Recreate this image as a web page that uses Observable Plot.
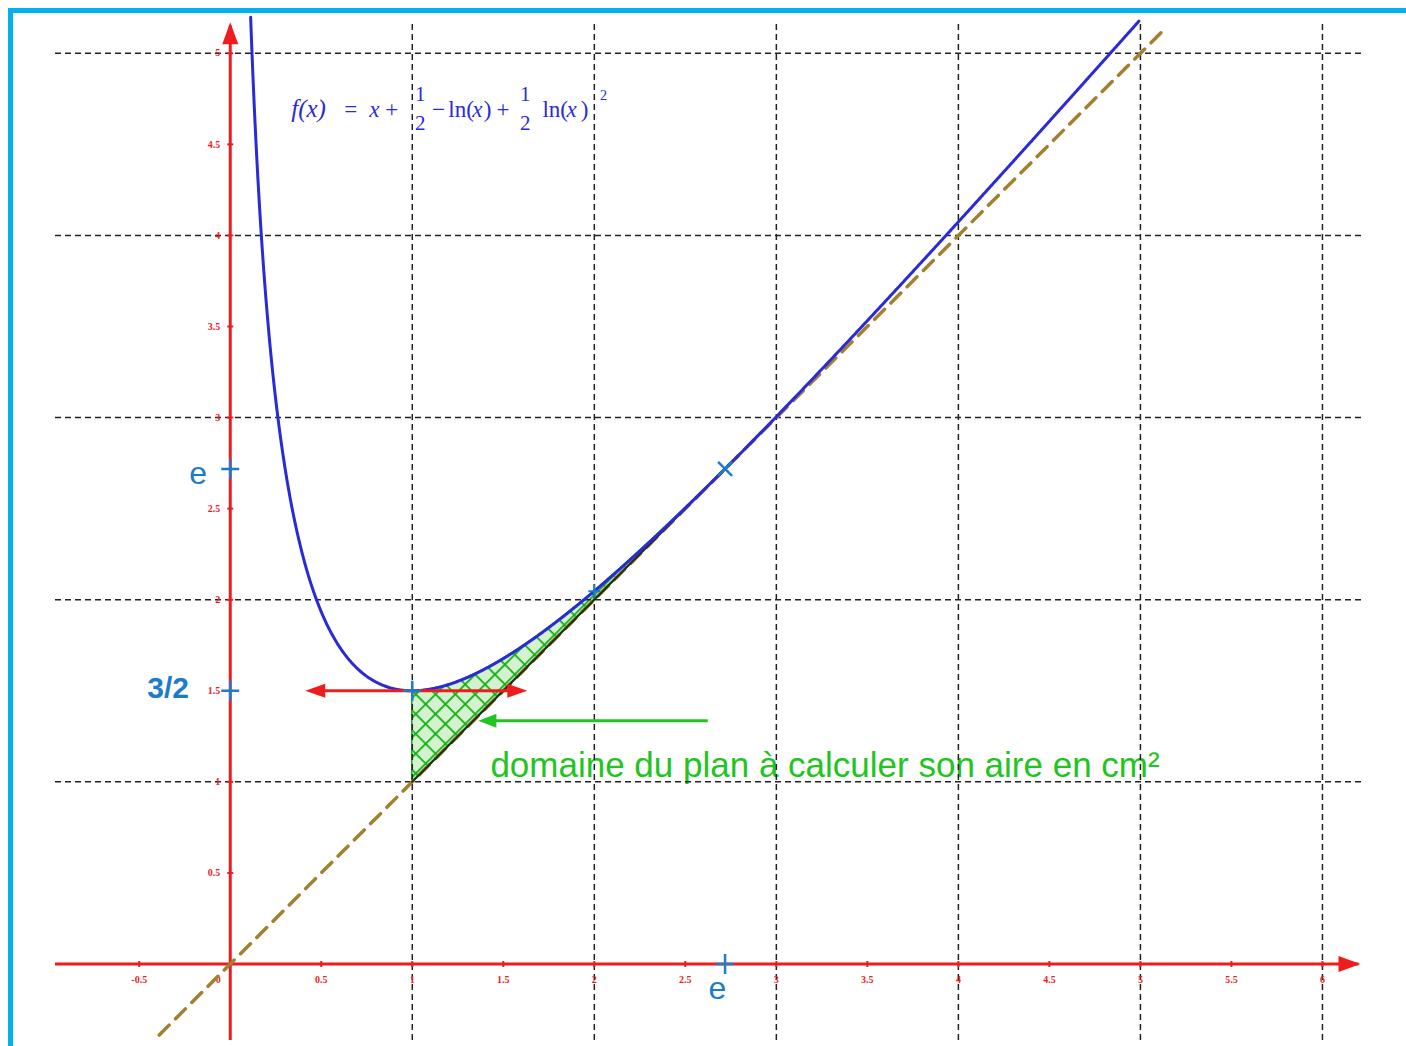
<!DOCTYPE html>
<html>
<head>
<meta charset="utf-8">
<script src="https://cdn.jsdelivr.net/npm/d3@7"></script>
<script src="https://cdn.jsdelivr.net/npm/@observablehq/plot@0.6"></script>
<style>
  html, body { margin: 0; padding: 0; background: #ffffff; }
  #wrap { position: relative; width: 1406px; height: 1046px; overflow: hidden; }
  #wrap svg { position: absolute; left: 0; top: 0; }
  #border { position: absolute; left: 8px; top: 8px; width: 1500px; height: 1100px;
            border-left: 5px solid #00b0f0; border-top: 5px solid #00b0f0; pointer-events: none; }
</style>
</head>
<body>
<div id="wrap"><div id="border"></div></div>
<script>
// ---------- data ----------
const E = Math.E;
const gridX = [1, 2, 3, 4, 5, 6];
const gridY = [1, 2, 3, 4, 5];
const xTickValues = [-0.5, 0, 0.5, 1, 1.5, 2, 2.5, 3, 3.5, 4, 4.5, 5, 5.5, 6];
const xTickLabels = ["-0.5", "0", "0.5", "1", "1.5", "2", "2.5", "3", "3.5", "4", "4.5", "5", "5.5", "6"];
const yTickValues = [0.5, 1, 1.5, 2, 2.5, 3, 3.5, 4, 4.5, 5];
const yTickLabels = ["0.5", "1", "1.5", "2", "2.5", "3", "3.5", "4", "4.5", "5"];
// the function displayed on the chart: f(x) = x + 1/2 - ln(x) + 1/2 ln(x)^2
const f = x => x + 0.5 - Math.log(x) + 0.5 * Math.log(x) ** 2;
const curveXs = d3.range(0.112, 4.996, 0.004);
const regionXs = d3.range(1, E, 0.005).concat([E]);
const diagonalEnds = [-0.39, 5.14];          // y = x dashed line
const tangentEnds = [0.412, 1.632];          // horizontal tangent at y = 3/2
const tangentY = 1.5;
const pointerEnds = [2.626, 1.363];          // green pointer arrow
const pointerY = 1.335;
const markedPoints = [[0, E], [0, 1.5], [1, 1.5], [E, 0]];
const smallMarked = [[2, f(2)]];
const tangencyPoint = [[E, E]];
const regionLabel = "domaine du plan à calculer son aire en cm²";

// ---------- styling ----------
const RED = "#ee1c1c", BLUE = "#2a2ad8", MARK = "#1c7cc9", GREEN = "#22c422", BROWN = "#a2802f";
const X0 = -0.96, X1 = 6.22, Y0 = -0.42, Y1 = 5.18;

const curve = curveXs.map(x => ({x, y: f(x)}));
const region = regionXs.map(x => ({x, y1: x, y2: f(x)}));
const xTicks = xTickValues.map((v, i) => ({v, label: xTickLabels[i]}));
const yTicks = yTickValues.map((v, i) => ({v, label: yTickLabels[i]}));

const sym = (fn) => ({draw: fn});
const headRight = sym(c => { c.moveTo(0, 0); c.lineTo(-22, -8); c.lineTo(-22, 8); c.closePath(); });
const headUp = sym(c => { c.moveTo(0, 0); c.lineTo(-8, 22); c.lineTo(8, 22); c.closePath(); });
const tanLeft = sym(c => { c.moveTo(0, 0); c.lineTo(20, -7); c.lineTo(20, 7); c.closePath(); });
const tanRight = sym(c => { c.moveTo(0, 0); c.lineTo(-20, -7); c.lineTo(-20, 7); c.closePath(); });
const greenHead = sym(c => { c.moveTo(0, 0); c.lineTo(18, -7); c.lineTo(18, 7); c.closePath(); });
const plus = sym(c => { c.moveTo(-9, 0); c.lineTo(9, 0); c.moveTo(0, -10); c.lineTo(0, 10); });
const smallPlus = sym(c => { c.moveTo(-6, 0); c.lineTo(6, 0); c.moveTo(0, -7); c.lineTo(0, 7); });
const times = sym(c => { c.moveTo(-7, -7); c.lineTo(7, 7); c.moveTo(-7, 7); c.lineTo(7, -7); });
const tickV = sym(c => { c.moveTo(0, -3); c.lineTo(0, 3); });
const tickH = sym(c => { c.moveTo(-3, 0); c.lineTo(3, 0); });

// formula pieces (text, x, y, italic, size, anchor)
const formulaPieces = [
  ["f(x)", 0.335, 4.692, true, 25, "start"],
  ["=", 0.626, 4.692, false, 23, "start"],
  ["x", 0.764, 4.692, true, 23, "start"],
  ["+", 0.852, 4.692, false, 23, "start"],
  ["1", 1.044, 4.775, false, 21, "middle"],
  ["2", 1.044, 4.615, false, 21, "middle"],
  ["−", 1.108, 4.692, false, 23, "start"],
  ["ln(", 1.198, 4.692, false, 23, "start"],
  ["x", 1.330, 4.692, true, 23, "start"],
  [")", 1.392, 4.692, false, 23, "start"],
  ["+", 1.462, 4.692, false, 23, "start"],
  ["1", 1.621, 4.775, false, 21, "middle"],
  ["2", 1.621, 4.615, false, 21, "middle"],
  ["ln(", 1.715, 4.692, false, 23, "start"],
  ["x", 1.847, 4.692, true, 23, "start"],
  [")", 1.925, 4.692, false, 23, "start"],
  ["2", 2.05, 4.77, false, 14, "middle"]
];

const formulaMarks = formulaPieces.map(([t, x, y, it, s, a]) =>
  Plot.text([t], {x: () => x, y: () => y, text: d => d, fill: BLUE,
    fontFamily: "'Liberation Serif', 'DejaVu Serif', serif", fontStyle: it ? "italic" : "normal",
    fontSize: s, textAnchor: a}));

const tickFont = {fill: RED, fontWeight: "bold", fontFamily: "'Liberation Serif', serif", fontSize: 10};

const chart = Plot.plot({
  width: 1406, height: 1046,
  marginLeft: 55, marginRight: 44, marginTop: 20, marginBottom: 6,
  style: {background: "transparent", overflow: "visible"},
  x: {domain: [X0, X1], axis: null},
  y: {domain: [Y0, Y1], axis: null},
  marks: [
    // hatched region
    Plot.areaY(region, {x: "x", y1: "y1", y2: "y2", fill: "#cfeecb", stroke: "#1aa81a", strokeWidth: 1.5}),
    // texts under the grid
    ...formulaMarks,
    Plot.text([regionLabel], {x: () => 1.429, y: () => 1.088, text: d => d, fill: GREEN,
      fontFamily: "'Liberation Sans', Arial, sans-serif", fontSize: 35, textAnchor: "start"}),
    // grid
    Plot.ruleX(gridX, {y1: Y0, y2: Y1, stroke: "#222", strokeWidth: 1.5, strokeDasharray: "6,4"}),
    Plot.ruleY(gridY, {x1: X0, x2: X1, stroke: "#222", strokeWidth: 1.5, strokeDasharray: "6,4"}),
    // axes
    Plot.ruleY([0], {x1: X0, x2: 6.2, stroke: RED, strokeWidth: 3}),
    Plot.ruleX([0], {y1: Y0, y2: 5.15, stroke: RED, strokeWidth: 3}),
    Plot.dot([[6.209, 0]], {x: d => d[0], y: d => d[1], symbol: headRight, fill: RED, stroke: "none"}),
    Plot.dot([[0, 5.17]], {x: d => d[0], y: d => d[1], symbol: headUp, fill: RED, stroke: "none"}),
    Plot.dot(xTickValues, {x: d => d, y: () => 0, symbol: tickV, fill: "none", stroke: RED, strokeWidth: 2}),
    Plot.dot(yTickValues, {x: () => 0, y: d => d, symbol: tickH, fill: "none", stroke: RED, strokeWidth: 2}),
    Plot.text(xTicks.filter(d => d.v !== 0), {x: "v", y: () => 0, text: "label", dy: 16, ...tickFont}),
    Plot.text(xTicks.filter(d => d.v === 0), {x: "v", y: () => 0, text: "label", dy: 16, dx: -12, ...tickFont}),
    Plot.text(yTicks, {x: () => 0, y: "v", text: "label", dx: -10, textAnchor: "end", ...tickFont}),
    // y = x dashed line
    Plot.line(diagonalEnds.map(v => ({x: v, y: v})), {x: "x", y: "y", stroke: BROWN, strokeWidth: 3.5, strokeDasharray: "14,9"}),
    // dark lower edge of region
    Plot.line([1, E].map(v => ({x: v, y: v})), {x: "x", y: "y", stroke: "#1b2a1b", strokeWidth: 2}),
    // curve
    Plot.line(curve, {x: "x", y: "y", stroke: BLUE, strokeWidth: 3}),
    // tangent arrow
    Plot.ruleY([tangentY], {x1: tangentEnds[0] + 0.05, x2: tangentEnds[1] - 0.05, stroke: RED, strokeWidth: 3}),
    Plot.dot([tangentEnds[0]], {x: d => d, y: () => tangentY, symbol: tanLeft, fill: RED, stroke: "none"}),
    Plot.dot([tangentEnds[1]], {x: d => d, y: () => tangentY, symbol: tanRight, fill: RED, stroke: "none"}),
    // green pointer
    Plot.ruleY([pointerY], {x1: pointerEnds[0], x2: pointerEnds[1] + 0.05, stroke: GREEN, strokeWidth: 3}),
    Plot.dot([pointerEnds[1]], {x: d => d, y: () => pointerY, symbol: greenHead, fill: GREEN, stroke: "none"}),
    // marked points
    Plot.dot(markedPoints, {x: d => d[0], y: d => d[1], symbol: plus, fill: "none", stroke: MARK, strokeWidth: 2.5}),
    Plot.dot(smallMarked, {x: d => d[0], y: d => d[1], symbol: smallPlus, fill: "none", stroke: MARK, strokeWidth: 2}),
    Plot.dot(tangencyPoint, {x: d => d[0], y: d => d[1], symbol: times, fill: "none", stroke: MARK, strokeWidth: 2.5}),
    // labels
    Plot.text(["e"], {x: () => -0.176, y: () => 2.692, text: d => d, fill: MARK, fontSize: 32,
      fontFamily: "'Liberation Sans', Arial, sans-serif"}),
    Plot.text(["3/2"], {x: () => -0.341, y: () => 1.511, text: d => d, fill: MARK, fontSize: 30, fontWeight: "bold",
      fontFamily: "'Liberation Sans', Arial, sans-serif"}),
    Plot.text(["e"], {x: () => 2.676, y: () => -0.137, text: d => d, fill: MARK, fontSize: 32,
      fontFamily: "'Liberation Sans', Arial, sans-serif"})
  ]
});

// crosshatch pattern for the region
const svg = d3.select(chart);
const defs = svg.insert("defs", ":first-child");
const pat = defs.append("pattern").attr("id", "hatch").attr("patternUnits", "userSpaceOnUse")
  .attr("width", 14).attr("height", 14).attr("patternTransform", "rotate(45)");
pat.append("rect").attr("width", 14).attr("height", 14).attr("fill", "#d4f2cf");
pat.append("line").attr("x1", 0).attr("y1", 0).attr("x2", 0).attr("y2", 14).attr("stroke", "#10b010").attr("stroke-width", 3.5);
pat.append("line").attr("x1", 0).attr("y1", 0).attr("x2", 14).attr("y2", 0).attr("stroke", "#10b010").attr("stroke-width", 3.5);
svg.selectAll('g[aria-label="area"] path').attr("fill", "url(#hatch)");

document.getElementById("wrap").prepend(chart);
</script>
</body>
</html>
